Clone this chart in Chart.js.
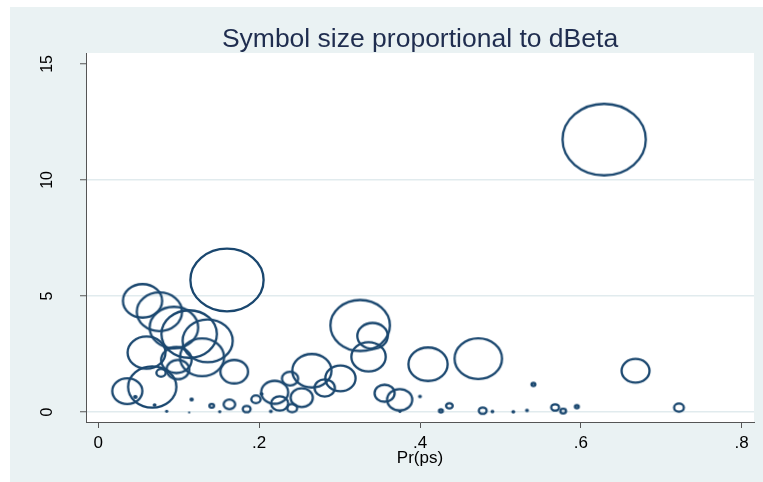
<!DOCTYPE html>
<html>
<head>
<meta charset="utf-8">
<script src="https://cdn.jsdelivr.net/npm/chart.js@4/dist/chart.umd.min.js"></script>
<style>
html,body{margin:0;padding:0;background:#ffffff;}
#wrap{width:763px;height:482px;position:relative;}
</style>
</head>
<body>
<div id="wrap"><canvas id="c" width="763" height="482"></canvas></div>
<script>
// ---- data ----
const titleText = 'Symbol size proportional to dBeta';
const xAxisTitle = 'Pr(ps)';
const xTicks = [0, 0.2, 0.4, 0.6, 0.8];
const yTicks = [0, 5, 10, 15];

// predicted probability
const prPs = [0.160, 0.055, 0.076, 0.094, 0.113, 0.136, 0.060, 0.129, 0.097, 0.099,
              0.078, 0.169, 0.067, 0.036, 0.046, 0.070, 0.085, 0.116, 0.113, 0.141,
              0.151, 0.163, 0.1845, 0.196, 0.203, 0.2145, 0.3256, 0.341, 0.336, 0.410,
              0.2655, 0.301, 0.2815, 0.2384, 0.2193, 0.2529, 0.2255, 0.241, 0.356, 0.3747,
              0.400, 0.375, 0.426, 0.4365, 0.4725, 0.668, 0.541, 0.478, 0.490, 0.516,
              0.533, 0.568, 0.578, 0.595, 0.722, 0.629];
// change in Pearson chi-squared
const deltaChi2 = [5.69, 4.79, 4.32, 3.64, 3.36, 3.07, 2.56, 2.36, 2.24, 1.83,
                   1.69, 1.74, 1.08, 0.90, 0.65, 0.30, 0.03, 0.54, -0.02, 0.27,
                   0.01, 0.33, 0.13, 0.55, 0.78, 0.03, 3.73, 3.28, 2.38, 2.06,
                   1.78, 1.45, 1.04, 1.44, 0.85, 0.62, 0.37, 0.17, 0.81, 0.53,
                   0.67, 0.02, 0.05, 0.27, 2.30, 1.78, 1.19, 0.06, 0.02, 0.01,
                   0.07, 0.20, 0.04, 0.23, 0.19, 11.74];
// dBeta (relative units; marker area proportional to it)
const dBeta = [10.6, 3.2, 4.2, 4.8, 6.2, 5.1, 3.0, 4.0, 2.0, 1.16,
               0.25, 1.67, 4.75, 1.95, 0.04, 0.03, 0.02, 0.04, 0.01, 0.09,
               0.02, 0.36, 0.19, 0.25, 0.03, 0.03, 7.1, 2.0, 2.5, 3.2,
               3.2, 1.97, 0.95, 0.64, 1.6, 1.12, 0.7, 0.28, 0.93, 1.4,
               0.03, 0.02, 0.07, 0.15, 4.6, 1.7, 0.07, 0.19, 0.03, 0.03,
               0.03, 0.19, 0.12, 0.07, 0.27, 13.6];

// ---- styling ----
const MARK = '#1a476f';
const PANEL = '#eaf2f3';
const AXIS = '#555555';
const GRID = '#e1ebee';
const ASPECT = 1.16;   // reference markers are drawn slightly wider than tall
const LW = 2.3;
const SIZE_K = 10;     // px per sqrt(dBeta)

const markerCache = {};
function markerFor(i) {
  if (markerCache[i]) return markerCache[i];
  const ro = SIZE_K * Math.sqrt(dBeta[i]);
  const ry = ro, rx = ro * ASPECT;
  const w = Math.ceil(2 * rx) + 4, h = Math.ceil(2 * ry) + 4;
  const c = document.createElement('canvas');
  c.width = w; c.height = h;
  const g = c.getContext('2d');
  g.beginPath();
  if (ro < 2.5) {
    g.ellipse(w / 2, h / 2, rx, ry, 0, 0, Math.PI * 2);
    g.fillStyle = MARK; g.fill();
  } else {
    g.ellipse(w / 2, h / 2, rx - LW / 2, ry - LW / 2, 0, 0, Math.PI * 2);
    g.lineWidth = LW; g.strokeStyle = MARK; g.stroke();
  }
  markerCache[i] = c;
  return c;
}

const points = prPs.map((x, i) => ({ x: x, y: deltaChi2[i] }));

const bgPlugin = {
  id: 'bg',
  beforeDraw(chart) {
    const ctx = chart.ctx, a = chart.chartArea;
    ctx.save();
    ctx.fillStyle = '#ffffff';
    ctx.fillRect(0, 0, chart.width, chart.height);
    ctx.fillStyle = PANEL;
    ctx.fillRect(10, 7, chart.width - 10, chart.height - 7);
    ctx.fillStyle = '#ffffff';
    ctx.fillRect(a.left, a.top, a.right - a.left, a.bottom - a.top);
    ctx.restore();
  }
};

const fmtX = v => v === 0 ? '0' : String(v).replace(/^0/, '');

new Chart(document.getElementById('c'), {
  type: 'scatter',
  data: {
    datasets: [{
      data: points,
      pointStyle: ctx => markerFor(ctx.dataIndex),
      pointRadius: ctx => Math.max(SIZE_K * Math.sqrt(dBeta[ctx.dataIndex]), 0.5),
      pointHoverRadius: ctx => Math.max(SIZE_K * Math.sqrt(dBeta[ctx.dataIndex]), 0.5),
      backgroundColor: MARK,
      borderColor: MARK,
      clip: 6
    }]
  },
  options: {
    responsive: false,
    animation: false,
    devicePixelRatio: 1,
    layout: { autoPadding: false, padding: { left: 10, right: 9, top: 0, bottom: 0 } },
    plugins: {
      legend: { display: false },
      tooltip: { enabled: false },
      title: {
        display: true,
        text: titleText,
        fullSize: false,
        color: '#1f2d4f',
        font: { family: '"Liberation Sans", Arial, sans-serif', size: 26.5, weight: 'normal', lineHeight: 1.0 },
        padding: { top: 26.5, bottom: 0 }
      }
    },
    scales: {
      x: {
        type: 'linear',
        min: -0.0153,
        max: 0.8153,
        afterBuildTicks: s => { s.ticks = xTicks.map(v => ({ value: v })); },
        afterFit: s => { s.height = 60; s.paddingLeft = 0; s.paddingRight = 0; },
        grid: { drawOnChartArea: false, drawTicks: true, tickLength: 6, tickColor: AXIS, tickWidth: 1 },
        border: { display: true, color: AXIS, width: 1 },
        ticks: {
          callback: v => fmtX(v),
          color: '#000000',
          padding: 5,
          maxRotation: 0, minRotation: 0,
          font: { family: '"Liberation Sans", Arial, sans-serif', size: 17 }
        },
        title: {
          display: true,
          text: xAxisTitle,
          color: '#000000',
          font: { family: '"Liberation Sans", Arial, sans-serif', size: 17, lineHeight: 1.2 },
          padding: { top: 0, bottom: 13 }
        }
      },
      y: {
        type: 'linear',
        min: -0.43,
        max: 15.47,
        afterBuildTicks: s => { s.ticks = yTicks.map(v => ({ value: v })); },
        afterFit: s => { s.width = 76; s.paddingTop = 0; s.paddingBottom = 0; },
        grid: {
          drawOnChartArea: true,
          color: ctx => (ctx.tick && ctx.tick.value === 15) ? 'rgba(0,0,0,0)' : GRID,
          lineWidth: 1.5,
          drawTicks: true, tickLength: 6, tickColor: AXIS, tickWidth: 1
        },
        border: { display: true, color: AXIS, width: 1 },
        ticks: {
          callback: v => String(v),
          color: '#000000',
          padding: 24,
          crossAlign: 'center',
          minRotation: 90, maxRotation: 90,
          font: { family: '"Liberation Sans", Arial, sans-serif', size: 16 }
        }
      }
    }
  },
  plugins: [bgPlugin]
});
</script>
</body>
</html>
